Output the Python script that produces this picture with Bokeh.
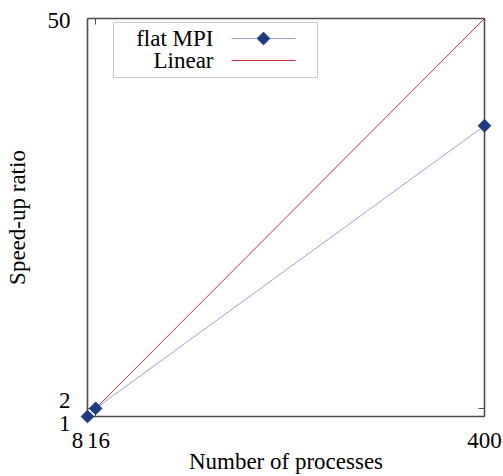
import math
from bokeh.plotting import figure
from bokeh.models import (Range1d, LinearAxis, FixedTicker, Label, BoxAnnotation,
                          CustomJSTickFormatter, ColumnDataSource)
from bokeh.core.properties import value
from bokeh.embed import file_html
from bokeh.resources import INLINE

# ---- data ----
processes = [8, 16, 400]
flat_mpi = [1.0, 2.0, 36.8]
linear_x = [8, 400]
linear_y = [1, 50]
x_ticks = [8, 16, 400]
x_tick_labels = ["8", "16", "400"]
y_ticks = [1, 2, 50]
y_tick_labels = ["1", "2", "50"]
series_names = ["flat MPI", "Linear"]

FONT = "Liberation Serif"
FS = "23px"
AXIS_COLOR = "#4d4d4d"
BLUE_LINE = "#97a3d6"
MARKER = "#1f3a7f"
RED = "#d0303f"
MSIZE = 9

W, H = 503, 476
FL, FR, FT, FB = 87, 484, 18, 416
X0, X1 = 8, 400
Y0, Y1 = 1, 50


def dx(px):
    return X0 + (px - FL) * (X1 - X0) / (FR - FL)


def dy(py):
    return Y0 + (FB - py) * (Y1 - Y0) / (FB - FT)


p = figure(width=W, height=H, output_backend="svg", toolbar_location=None,
           x_range=Range1d(X0, X1), y_range=Range1d(Y0, Y1),
           x_axis_location=None, y_axis_location=None,
           min_border_left=FL, min_border_right=W - FR,
           min_border_top=FT, min_border_bottom=H - FB)
p.grid.visible = False
p.outline_line_color = None
p.background_fill_color = "white"
p.border_fill_color = "white"


def make_axis(ticks, label=""):
    ax = LinearAxis(ticker=FixedTicker(ticks=ticks))
    ax.major_tick_in = 6
    ax.major_tick_out = 0
    ax.minor_tick_line_color = None
    ax.major_tick_line_color = AXIS_COLOR
    ax.major_tick_line_width = 1
    ax.axis_line_color = AXIS_COLOR
    ax.axis_line_width = 1.6
    ax.formatter = CustomJSTickFormatter(code="return ''")
    ax.major_label_standoff = 0
    if label:
        ax.axis_label = label
        ax.axis_label_text_font = FONT
        ax.axis_label_text_font_size = FS
        ax.axis_label_text_font_style = "normal"
        ax.axis_label_text_color = "black"
    return ax


bx = make_axis(x_ticks, "Number of processes")
bx.axis_label_standoff = 32
ly = make_axis(y_ticks, "Speed-up ratio")
ly.axis_label_standoff = 58
p.add_layout(bx, "below")
p.add_layout(ly, "left")
p.add_layout(make_axis(x_ticks), "above")
p.add_layout(make_axis(y_ticks), "right")

# tick labels drawn as text glyphs at the tick values (screen-pixel offsets)
xt = ColumnDataSource(dict(x=x_ticks, y=[Y0] * len(x_ticks), text=x_tick_labels,
                           xo=[-10, 3, 0]))
r = p.text(x="x", y="y", text="text", source=xt, x_offset="xo", y_offset=24,
           text_font=value(FONT), text_font_size=value(FS), text_color="black",
           text_align="center", text_baseline="middle")
r.level = "overlay"
yt = ColumnDataSource(dict(x=[X0] * len(y_ticks), y=y_ticks, text=y_tick_labels,
                           yo=[7, -8, 2]))
r = p.text(x="x", y="y", text="text", source=yt, x_offset=-17, y_offset="yo",
           text_font=value(FONT), text_font_size=value(FS), text_color="black",
           text_align="right", text_baseline="middle")
r.level = "overlay"

# series
p.line(linear_x, linear_y, line_color=RED, line_width=1)
p.line(processes, flat_mpi, line_color=BLUE_LINE, line_width=1)
pts = p.scatter(processes, flat_mpi, marker="square", size=MSIZE, angle=math.pi / 4,
                fill_color=MARKER, line_color=MARKER)
pts.level = "overlay"

# legend (gnuplot style: label then sample)
p.add_layout(BoxAnnotation(left=dx(113), right=dx(317), top=dy(22), bottom=dy(77),
                           fill_color="white", fill_alpha=1.0,
                           line_color=AXIS_COLOR, line_width=1, level="annotation"))
rows = [38, 60]
for name, py in zip(series_names, rows):
    p.add_layout(Label(x=dx(213), y=dy(py), text=name, text_font=FONT,
                       text_font_size=FS, text_color="black",
                       text_align="right", text_baseline="middle", level="overlay"))
l1 = p.line([dx(231), dx(295)], [dy(rows[0])] * 2, line_color=BLUE_LINE, line_width=1)
l1.level = "overlay"
m1 = p.scatter([dx(263)], [dy(rows[0])], marker="square", size=MSIZE, angle=math.pi / 4,
               fill_color=MARKER, line_color=MARKER)
m1.level = "overlay"
l2 = p.line([dx(231), dx(295)], [dy(rows[1])] * 2, line_color=RED, line_width=1)
l2.level = "overlay"

open("out.html", "w").write(file_html(p, INLINE))
